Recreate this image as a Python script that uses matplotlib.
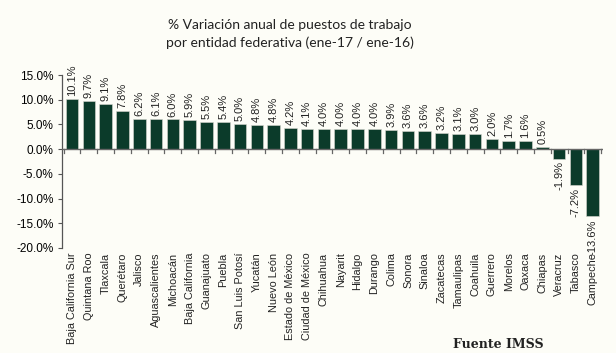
import numpy as np
import matplotlib
matplotlib.use("Agg")
import matplotlib.pyplot as plt

estados = ["Baja California Sur", "Quintana Roo", "Tlaxcala", "Querétaro", "Jalisco",
           "Aguascalientes", "Michoacán", "Baja California", "Guanajuato", "Puebla",
           "San Luis Potosí", "Yucatán", "Nuevo León", "Estado de México", "Ciudad de México",
           "Chihuahua", "Nayarit", "Hidalgo", "Durango", "Colima", "Sonora", "Sinaloa",
           "Zacatecas", "Tamaulipas", "Coahuila", "Guerrero", "Morelos", "Oaxaca",
           "Chiapas", "Veracruz", "Tabasco", "Campeche"]
variacion = [10.1, 9.7, 9.1, 7.8, 6.2, 6.1, 6.0, 5.9, 5.5, 5.4, 5.0, 4.8, 4.8, 4.2, 4.1,
             4.0, 4.0, 4.0, 4.0, 3.9, 3.6, 3.6, 3.2, 3.1, 3.0, 2.0, 1.7, 1.6, 0.5,
             -1.9, -7.2, -13.6]
yticks = [15, 10, 5, 0, -5, -10, -15, -20]

bg = "#fdfdf7"
verde = "#0b3b2a"

fig = plt.figure(figsize=(6.16, 3.53), dpi=100, facecolor=bg)
ax = fig.add_axes([0.1006, 0.2975, 0.878, 0.49])
ax.set_facecolor(bg)

x = np.arange(len(estados))
ax.bar(x, variacion, width=0.75, color=verde, edgecolor="#d8d8d0", linewidth=0.4, zorder=2)

for xi, v in zip(x, variacion):
    if v >= 0:
        ax.text(xi, v + 0.6, "%.1f%%" % v, rotation=90, ha="center", va="bottom",
                fontsize=8, family="Liberation Sans", color="#222222")
    else:
        ax.text(xi, v - 0.6, "%.1f%%" % v, rotation=90, ha="center", va="top",
                fontsize=8, family="Liberation Sans", color="#222222")

ax.set_xlim(-0.6, len(estados) - 0.4)
ax.set_ylim(-20, 15)
ax.set_yticks(yticks)
ax.set_yticklabels(["%.1f%%" % t for t in yticks], family="Liberation Sans", fontsize=8.5)
ax.tick_params(axis="y", length=3, width=0.8, color="#555555", pad=3)

for s in ["top", "right", "bottom"]:
    ax.spines[s].set_visible(False)
ax.spines["left"].set_color("#555555")
ax.spines["left"].set_linewidth(0.9)

# zero line with ticks between categories
ax.axhline(0, color="#666666", linewidth=1.0, zorder=3)
for b in np.arange(-0.5, len(estados), 1.0):
    ax.plot([b, b], [0, -0.7], color="#666666", linewidth=0.9, zorder=3)

ax.set_xticks(x)
ax.set_xticklabels([])
ax.tick_params(axis="x", length=0)
for xi, nombre in zip(x, estados):
    ax.text(xi, -20.9, nombre, rotation=90, ha="center", va="top",
            fontsize=7.8, family="Liberation Sans", color="#222222")

fig.text(0.47, 0.945, "% Variación anual de puestos de trabajo\npor entidad federativa (ene-17 / ene-16)",
         ha="center", va="top", fontsize=10, family="Lato", linespacing=1.5, color="#222222")
fig.text(0.735, 0.005, "Fuente IMSS", ha="left", va="bottom", fontsize=9,
         family="DejaVu Serif", weight="bold", color="#222222")

fig.savefig("out.png", dpi=100, facecolor=bg)
